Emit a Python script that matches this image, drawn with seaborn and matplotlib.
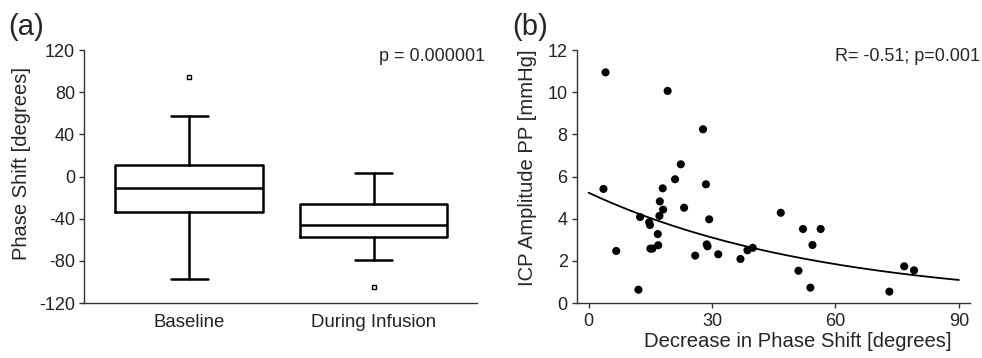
import numpy as np
import matplotlib
matplotlib.use("Agg")
import matplotlib.pyplot as plt
import seaborn as sns

# ── Dados ───────────────────────────────────────────────────────────
GRUPOS = ["Baseline", "During Infusion"]
BIGODE_INF = [-97, -79]
Q1 = [-34, -57]
MEDIANA = [-11, -46]
Q3 = [11, -26]
BIGODE_SUP = [57, 3]
OUTLIERS = [[94], [-105]]

DECREASE = [4.1, 3.6, 6.7, 12.1, 12.5, 14.7, 14.9, 15.0, 15.5, 16.8,
            16.9, 17.2, 17.3, 18.0, 18.1, 19.2, 21.0, 22.4, 23.2, 25.9,
            27.8, 28.5, 28.7, 28.9, 29.3, 31.5, 36.9, 38.6, 39.9, 46.7,
            51.0, 52.1, 53.9, 54.4, 56.4, 73.1, 76.7, 79.1]
AMPLITUDE = [10.94, 5.41, 2.47, 0.63, 4.08, 3.83, 3.70, 2.58, 2.58, 3.27,
             2.74, 4.13, 4.82, 5.44, 4.43, 10.06, 5.87, 6.58, 4.52, 2.25,
             8.24, 5.63, 2.78, 2.69, 3.97, 2.31, 2.09, 2.50, 2.62, 4.28,
             1.53, 3.51, 0.73, 2.75, 3.51, 0.54, 1.74, 1.55]

# ajuste exponencial y = A * exp(-B * x)
FIT_A = 5.23
FIT_B = 0.0174
FIT_X = [0, 90]

sns.set_style("ticks")
plt.rcParams.update({
    "font.family": ["Liberation Sans", "DejaVu Sans"],
    "font.size": 13,
    "axes.unicode_minus": False,
    "axes.edgecolor": "#333333",
    "axes.linewidth": 1.0,
    "xtick.color": "#333333",
    "ytick.color": "#333333",
    "xtick.labelcolor": "#222222",
    "ytick.labelcolor": "#222222",
    "xtick.major.size": 3.5,
    "ytick.major.size": 3.5,
    "xtick.major.width": 1.0,
    "ytick.major.width": 1.0,
})

fig = plt.figure(figsize=(9.82, 3.58), dpi=100)
ax1 = fig.add_axes([0.0855, 0.1536, 0.4002, 0.7067])
ax2 = fig.add_axes([0.5873, 0.1536, 0.4005, 0.7067])

# ════════════════════════════════════════════════════════════════════
# (a) Boxplot
# ════════════════════════════════════════════════════════════════════
stats = []
for i, g in enumerate(GRUPOS):
    stats.append({
        "label": g, "whislo": BIGODE_INF[i], "q1": Q1[i], "med": MEDIANA[i],
        "q3": Q3[i], "whishi": BIGODE_SUP[i], "fliers": OUTLIERS[i],
    })

linha = dict(color="black", linewidth=1.8)
ax1.bxp(
    stats, positions=[0, 1], widths=0.8, capwidths=0.2,
    boxprops=linha, whiskerprops=linha, capprops=linha, medianprops=linha,
    flierprops=dict(marker="s", markersize=3.5, markerfacecolor="white",
                    markeredgecolor="black", markeredgewidth=1.0),
)
ax1.set_xlim(-0.57, 1.56)
ax1.set_ylim(-120, 120)
ax1.set_yticks(np.arange(-120, 121, 40))
ax1.tick_params(axis="x", length=0, pad=8, labelsize=13.4)
ax1.tick_params(axis="y", pad=3)
ax1.set_ylabel("Phase Shift [degrees]", fontsize=14.5)
ax1.yaxis.set_label_coords(-0.158, 0.55)
ax1.yaxis.label.set_va("center")
sns.despine(ax=ax1)

# ════════════════════════════════════════════════════════════════════
# (b) Dispersão + ajuste
# ════════════════════════════════════════════════════════════════════
sns.scatterplot(x=DECREASE, y=AMPLITUDE, ax=ax2, color="black", s=34,
                edgecolor="none", zorder=3)
xs = np.linspace(FIT_X[0], FIT_X[1], 200)
sns.lineplot(x=xs, y=FIT_A * np.exp(-FIT_B * xs), ax=ax2, color="black",
             linewidth=1.3)
ax2.set_xlim(-2.9, 92.7)
ax2.set_ylim(0, 12)
ax2.set_xticks(np.arange(0, 91, 30))
ax2.set_yticks(np.arange(0, 13, 2))
ax2.tick_params(axis="x", pad=4)
ax2.tick_params(axis="y", pad=3)
ax2.set_xlabel("Decrease in Phase Shift [degrees]", fontsize=14.6)
ax2.xaxis.set_label_coords(0.563, -0.154)
ax2.xaxis.label.set_va("center")
ax2.set_ylabel("ICP Amplitude PP [mmHg]", fontsize=14.6)
ax2.yaxis.set_label_coords(-0.124, 0.534)
ax2.yaxis.label.set_va("center")
sns.despine(ax=ax2)

fig.text(0.494, 0.841, "p = 0.000001", ha="right", va="center", fontsize=13)
fig.text(0.998, 0.841, "R= -0.51; p=0.001", ha="right", va="center", fontsize=13)
fig.text(0.008, 0.925, "(a)", ha="left", va="center", fontsize=21)
fig.text(0.522, 0.925, "(b)", ha="left", va="center", fontsize=21)

plt.savefig("out.png", dpi=100)
